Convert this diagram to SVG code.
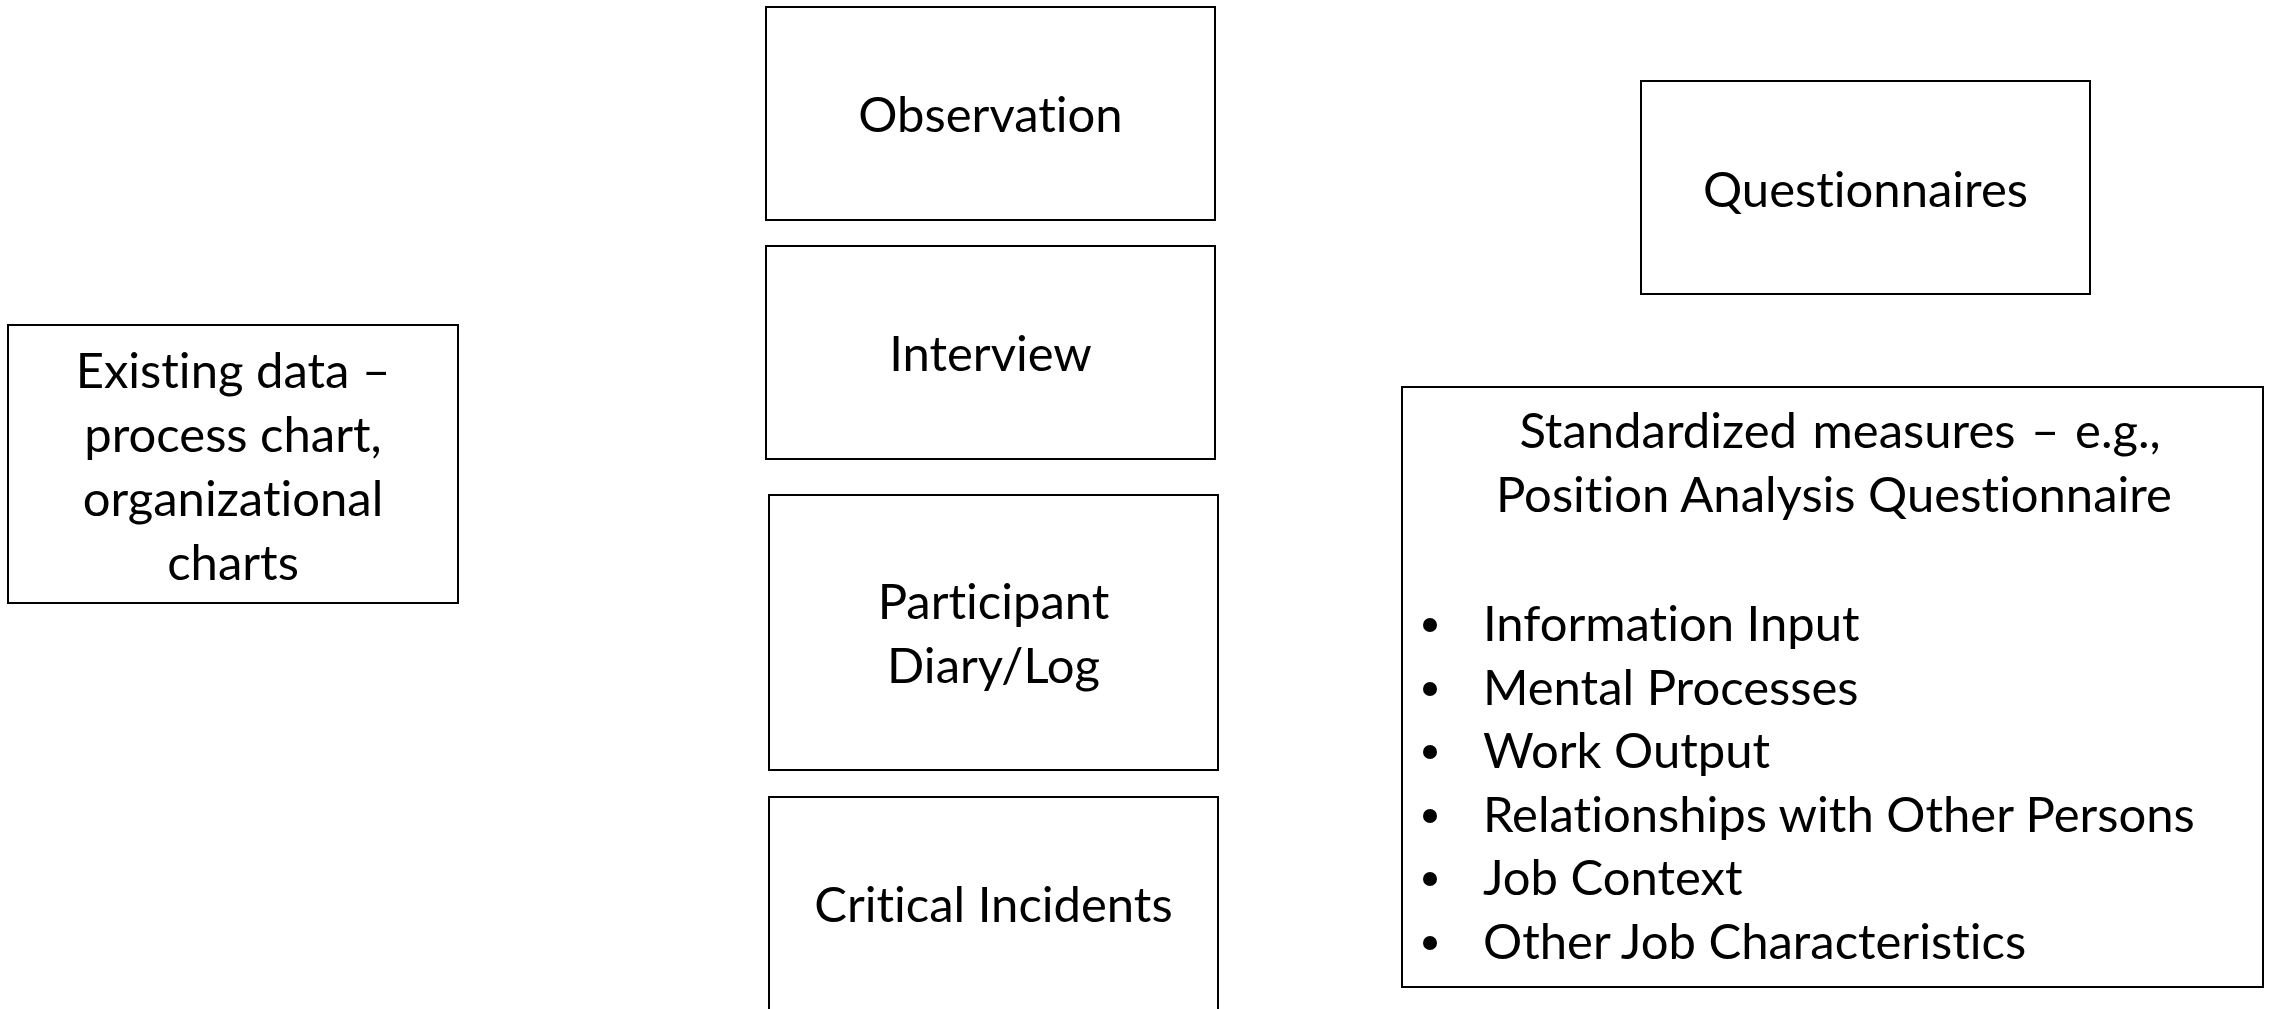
<svg xmlns="http://www.w3.org/2000/svg" width="2270" height="1009" viewBox="0 0 2270 1009">
  <style>
    .box { fill: #ffffff; stroke: #000000; stroke-width: 2; }
    .lbl { font-family: Lato, "Liberation Sans", sans-serif; font-size: 49px; fill: #000000; font-variant-ligatures: none; }
    .mid { text-anchor: middle; }
    .dot { fill: #000000; }
  </style>
  <rect width="2270" height="1009" fill="#ffffff"/>

  <g id="existing-data">
    <rect class="box" x="8" y="325" width="450" height="278"/>
    <text class="lbl mid" x="233" y="388">Existing data –</text>
    <text class="lbl mid" x="233" y="452">process chart,</text>
    <text class="lbl mid" x="233" y="516">organizational</text>
    <text class="lbl mid" x="233" y="580">charts</text>
  </g>

  <g id="observation">
    <rect class="box" x="766" y="7" width="449" height="213"/>
    <text class="lbl mid" x="990.5" y="132">Observation</text>
  </g>

  <g id="interview">
    <rect class="box" x="766" y="246" width="449" height="213"/>
    <text class="lbl mid" x="990.5" y="371">Interview</text>
  </g>

  <g id="participant-diary">
    <rect class="box" x="769" y="495" width="449" height="275"/>
    <text class="lbl mid" x="993.5" y="619">Participant</text>
    <text class="lbl mid" x="993.5" y="683">Diary/Log</text>
  </g>

  <g id="critical-incidents">
    <rect class="box" x="769" y="797" width="449" height="230"/>
    <text class="lbl mid" x="993.5" y="922">Critical Incidents</text>
  </g>

  <g id="questionnaires">
    <rect class="box" x="1641" y="81" width="449" height="213"/>
    <text class="lbl mid" x="1865.5" y="207">Questionnaires</text>
  </g>

  <g id="standardized-measures">
    <rect class="box" x="1402" y="387" width="861" height="600"/>
    <text class="lbl mid" x="1840" y="448" word-spacing="3">Standardized measures – e.g.,</text>
    <text class="lbl mid" x="1834" y="512">Position Analysis Questionnaire</text>
    <!-- list bullets -->
    <g class="bullets">
      <circle class="dot" cx="1430" cy="625" r="7"/>
      <circle class="dot" cx="1430" cy="689" r="7"/>
      <circle class="dot" cx="1430" cy="752" r="7"/>
      <circle class="dot" cx="1430" cy="816" r="7"/>
      <circle class="dot" cx="1430" cy="879" r="7"/>
      <circle class="dot" cx="1430" cy="943" r="7"/>
    </g>
    <text class="lbl" x="1483" y="641">Information Input</text>
    <text class="lbl" x="1483" y="705">Mental Processes</text>
    <text class="lbl" x="1483" y="768">Work Output</text>
    <text class="lbl" x="1483" y="832">Relationships with Other Persons</text>
    <text class="lbl" x="1483" y="895">Job Context</text>
    <text class="lbl" x="1483" y="959">Other Job Characteristics</text>
  </g>

  <g id="connectors"></g>
</svg>
